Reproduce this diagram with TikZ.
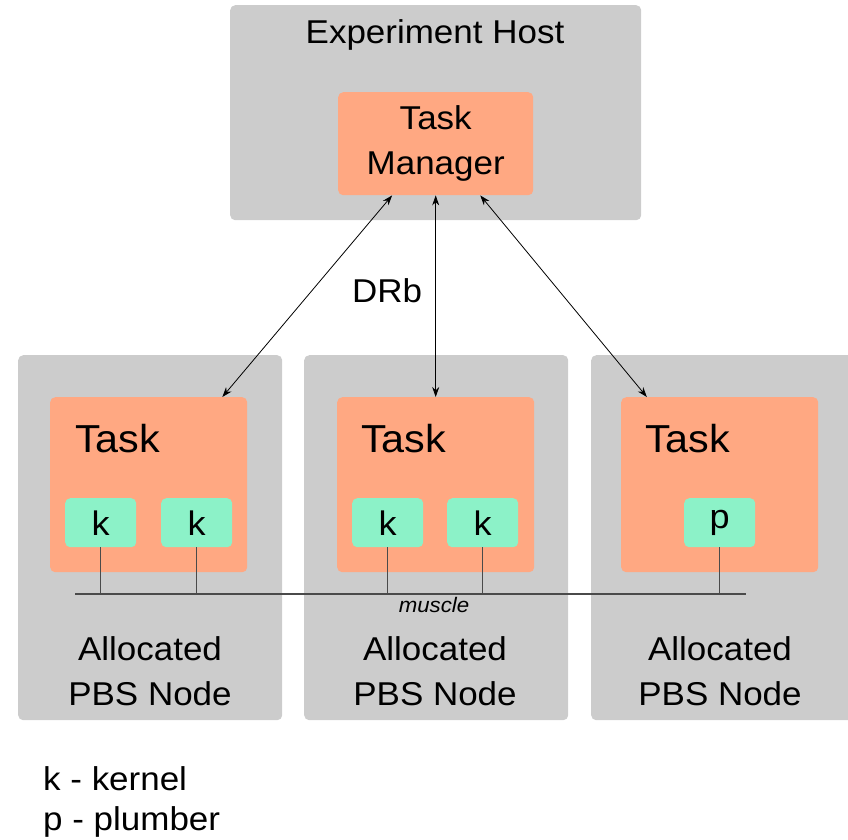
\documentclass[tikz,border=0pt]{standalone}
\usepackage{fontspec}
\setmainfont[FakeStretch=1.06]{Liberation Sans}
\usetikzlibrary{arrows.meta,calc}
\definecolor{hostgray}{HTML}{CCCCCC}
\definecolor{taskfill}{HTML}{FFA882}
\definecolor{procfill}{HTML}{8CF2C8}
\definecolor{busline}{HTML}{4A4A4A}
\newcommand{\mainsize}{\fontsize{33}{44}\selectfont}
\newcommand{\tasksize}{\fontsize{39}{44}\selectfont}
\newcommand{\procsize}{\fontsize{34}{40}\selectfont}
\begin{document}
\begin{tikzpicture}[x=1pt,y=-1pt,
  hostbox/.style={fill=hostgray, draw=none, rounded corners=5pt, inner sep=0pt, anchor=north west},
  taskbox/.style={fill=taskfill, draw=none, rounded corners=5pt, inner sep=0pt, anchor=north west},
  procbox/.style={fill=procfill, draw=none, rounded corners=5pt, inner sep=0pt, anchor=north west,
                  minimum width=71pt, minimum height=49pt, font=\procsize},
  nodebox/.style={hostbox, minimum width=264pt, minimum height=365pt},
  workbox/.style={taskbox, minimum width=197pt, minimum height=175pt},
  label/.style={font=\mainsize, align=center, inner sep=0pt},
  tasklabel/.style={font=\tasksize, anchor=base west, inner sep=0pt},
  link/.style={draw=black, line width=0.8pt, {Stealth[length=10pt,width=7pt]}-{Stealth[length=10pt,width=7pt]}},
  bus/.style={draw=busline, line width=1.2pt}]
\useasboundingbox (0,0) rectangle (848,839);
\clip (0,0) rectangle (848,839);

% experiment host with the task manager
\node[hostbox, minimum width=411pt, minimum height=215pt] (host) at (230,5) {};
\node[label, anchor=base] (hostlbl) at (435,43) {Experiment Host};
\node[taskbox, minimum width=195pt, minimum height=103pt, font=\mainsize, align=center] (tm) at (338,92)
  {Task\\[1pt]Manager};

% allocated PBS nodes
\node[nodebox] (n1) at (18,355) {};
\node[nodebox] (n2) at (304,355) {};
\node[nodebox] (n3) at (591,355) {};

\node[workbox] (t1) at (50,397) {};
\node[workbox] (t2) at (337,397) {};
\node[workbox] (t3) at (621,397) {};

\node[tasklabel] (t1lbl) at (75,452) {Task};
\node[tasklabel] (t2lbl) at (361,452) {Task};
\node[tasklabel] (t3lbl) at (645,452) {Task};

\node[procbox] (k1) at (65,498) {k};
\node[procbox] (k2) at (161,498) {k};
\node[procbox] (k3) at (352,498) {k};
\node[procbox] (k4) at (447,498) {k};
\node[procbox] (p1) at (684,498) {p};

\node[label] (n1lbl) at (150,671) {Allocated\\[1pt]PBS Node};
\node[label] (n2lbl) at (435,671) {Allocated\\[1pt]PBS Node};
\node[label] (n3lbl) at (720,671) {Allocated\\[1pt]PBS Node};

% DRb links between the task manager and the tasks
\draw[link] ($(tm.south west)!0.277!(tm.south east)$) -- ($(t1.north west)!0.873!(t1.north east)$);
\draw[link] (tm.south) -- (tm.south |- t2.north);
\draw[link] ($(tm.south west)!0.728!(tm.south east)$) -- ($(t3.north west)!0.131!(t3.north east)$);
\node[label, anchor=base] (drb) at (387,302) {DRb};

% muscle bus
\coordinate (busL) at (75,594);
\coordinate (busR) at (746,594);
\draw[bus] (busL) -- (busR);
\foreach \p in {k1,k2,k3,k4,p1}
  \draw[bus] (\p.south) -- (\p.south |- busL);
\node[font=\fontsize{21}{24}\selectfont\itshape, anchor=base, inner sep=0pt] (muscle) at (434,612) {muscle};

% legend
\node[label, anchor=base west] (legk) at (43,790) {k - kernel};
\node[label, anchor=base west] (legp) at (43,830) {p - plumber};
\end{tikzpicture}
\end{document}
